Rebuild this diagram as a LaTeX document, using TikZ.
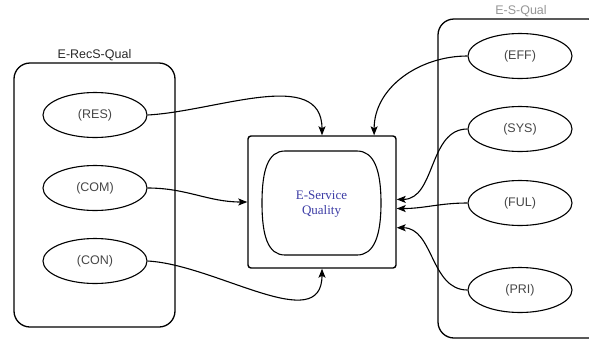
\documentclass[tikz,border=0pt]{standalone}
\usepackage{fontspec}
\setmainfont{Liberation Sans}
\newfontfamily\qualserif{Liberation Serif}
\usetikzlibrary{shapes.geometric,arrows.meta}

\definecolor{dimtext}{RGB}{70,70,70}
\definecolor{grouptext}{RGB}{40,40,40}
\definecolor{lightgroup}{RGB}{150,150,150}
\definecolor{qualblue}{RGB}{60,60,165}

\tikzset{
    dim/.style={ellipse, draw, line width=1.1pt, minimum width=104pt, minimum height=45pt,
        inner sep=0pt, text=dimtext, font=\fontsize{12.5}{15}\selectfont},
    group/.style={draw, line width=1.3pt, rounded corners=16pt},
    grouplabel/.style={above, inner sep=1pt, font=\fontsize{12.5}{15}\selectfont},
    link/.style={line width=1.1pt, -{Stealth[length=9pt, width=7pt, inset=2pt]}}
}

\begin{document}
\begin{tikzpicture}[x=1pt, y=-1pt]

    \clip (0,0) rectangle (589,341);

    \node[group, minimum width=161pt, minimum height=264pt] (recs) at (94.5,195) {};
    \node[grouplabel, text=grouptext] (recslabel) at (recs.north) {E-RecS-Qual};

    \node[group, minimum width=166pt, minimum height=319pt] (esqual) at (521,178.5) {};
    \node[grouplabel, text=lightgroup] (esquallabel) at (esqual.north) {E-S-Qual};

    \node[dim] (res) at (95,115) {(RES)};
    \node[dim] (com) at (95,188) {(COM)};
    \node[dim] (con) at (95,261) {(CON)};

    \node[dim] (eff) at (520,56) {(EFF)};
    \node[dim] (sys) at (520,129) {(SYS)};
    \node[dim] (ful) at (520,203) {(FUL)};
    \node[dim] (pri) at (520,290) {(PRI)};

    \node[draw, line width=1.4pt, rounded corners=3pt, minimum width=148pt, minimum height=132pt] (esq) at (322,202) {};
    \node[align=center, text=qualblue, font=\qualserif\fontsize{13}{15}\selectfont] (esqin) at (321.5,204) {E-Service\\Quality};

    % inner screen shape
    \draw[line width=1.1pt] (285,151) -- (357,151)
        .. controls (374,151) and (381,170) .. (381,203)
        .. controls (381,236) and (374,255) .. (357,255)
        -- (285,255)
        .. controls (268,255) and (262,236) .. (262,203)
        .. controls (262,170) and (268,151) .. (285,151) -- cycle;

    \draw[link] (res.east) to[out=3, in=90] (esq.north);
    \draw[link] (com.east) to[out=0, in=180] (esq.west);
    \draw[link] (con.east) to[out=-3, in=-90] (esq.south);

    \draw[link] (eff.west) to[out=180, in=90] (esq.52);
    \draw[link] (sys.west) to[out=180, in=0] (esq.2);
    \draw[link] (ful.west) to[out=180, in=0] (esq.-5);
    \draw[link] (pri.west) to[out=180, in=0] (esq.-19);

\end{tikzpicture}
\end{document}
